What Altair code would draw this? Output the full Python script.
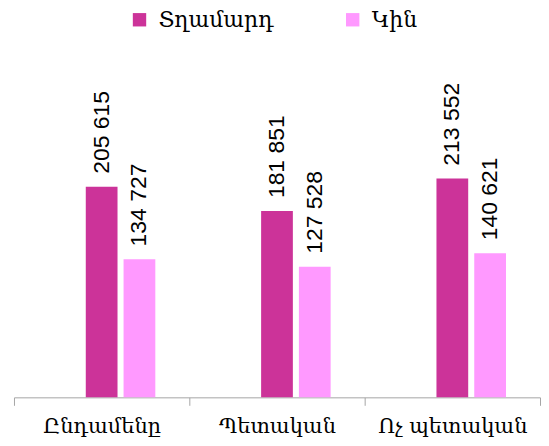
import altair as alt
import pandas as pd

categories = ["Ընդամենը", "Պետական", "Ոչ պետական"]
series_names = ["Տղամարդ", "Կին"]
men = [205615, 181851, 213552]
women = [134727, 127528, 140621]
colors = ["#CC3399", "#FF99FF"]

rows = []
for c, m, w in zip(categories, men, women):
    rows.append({"cat": c, "series": series_names[0], "v": m})
    rows.append({"cat": c, "series": series_names[1], "v": w})
df = pd.DataFrame(rows)

x = alt.X(
    "cat:N",
    sort=categories,
    scale=alt.Scale(paddingInner=0, paddingOuter=0),
    axis=alt.Axis(
        title=None, labelAngle=0, domainColor="#a6a6a6", tickColor="#a6a6a6",
        tickSize=8, tickBand="extent", labelPadding=10, labelFont="DejaVu Serif",
        labelFontSize=21, labelColor="black",
    ),
)
xo = alt.XOffset(
    "series:N",
    scale=alt.Scale(domain=[""] + series_names, paddingInner=0.16, paddingOuter=0.9),
)
y = alt.Y("v:Q", scale=alt.Scale(domain=[0, 248000]), axis=None)

base = alt.Chart(df)
bars = base.mark_bar().encode(
    x=x, xOffset=xo, y=y,
    color=alt.Color(
        "series:N",
        scale=alt.Scale(domain=series_names, range=colors),
        legend=alt.Legend(
            title=None, orient="none", legendX=115, legendY=-135,
            direction="horizontal", symbolType="square", symbolSize=180,
            symbolStrokeWidth=0, labelFont="DejaVu Serif", labelFontSize=22,
            labelColor="black", columnPadding=68, labelOffset=8,
        ),
    ),
)
labels = base.transform_calculate(
    lab="replace(format(datum.v, ','), ',', ' ')"
).mark_text(
    angle=270, align="left", baseline="middle", dx=13,
    font="Liberation Sans", fontSize=23, color="black",
).encode(x=x, xOffset=xo, y=y, text="lab:N")

chart = alt.layer(bars, labels).properties(
    width=528, height=255,
    padding={"left": 5, "top": 0, "right": 0, "bottom": 0},
).configure_view(stroke=None)

chart.save("out.html", embed_options={"renderer": "svg", "actions": False})
